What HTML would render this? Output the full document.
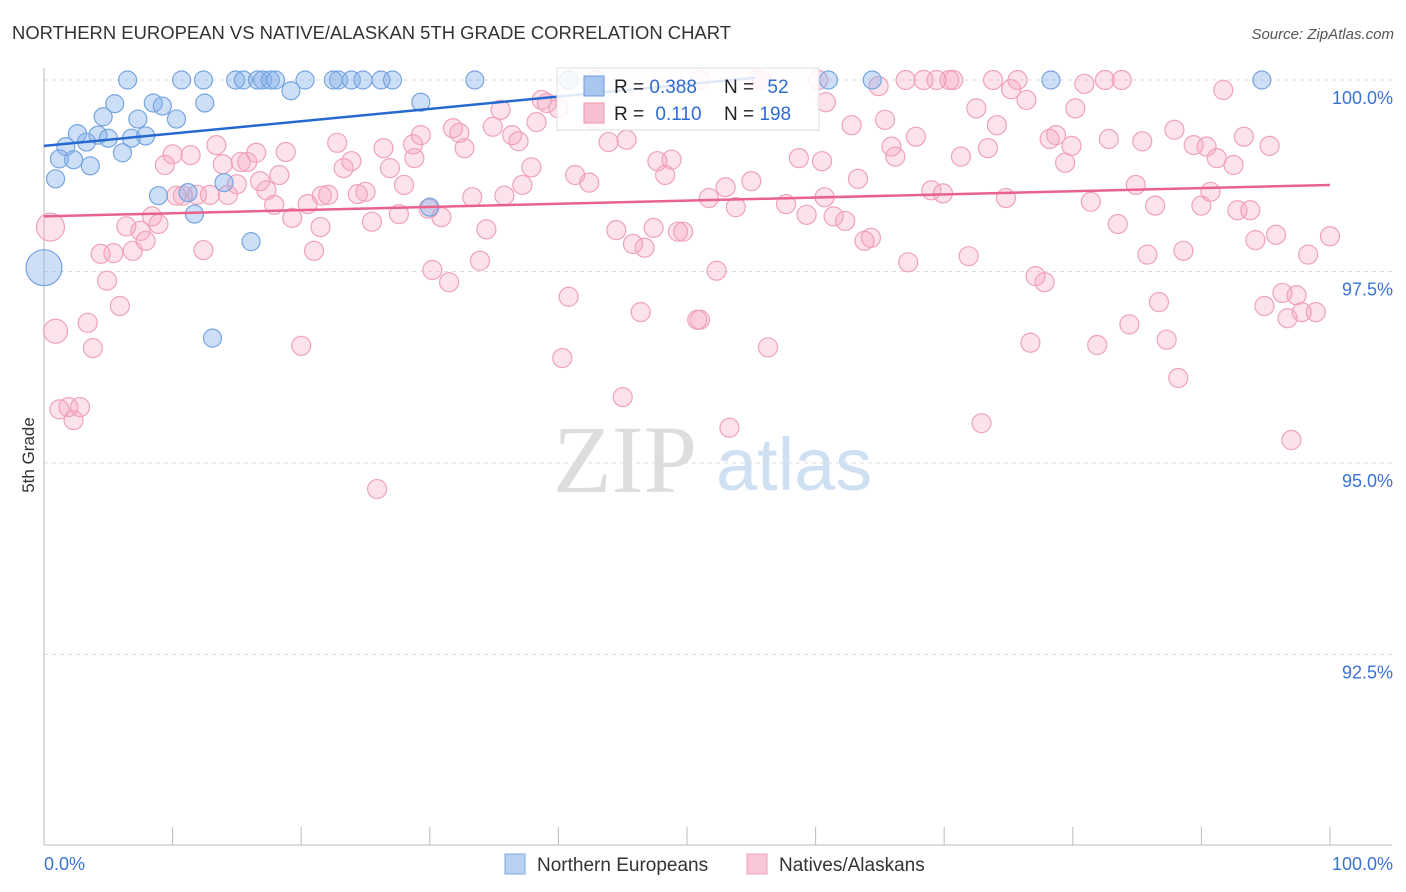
<!DOCTYPE html>
<html><head><meta charset="utf-8"><style>
body{margin:0;background:#fff;width:1406px;height:892px;overflow:hidden;font-family:"Liberation Sans",sans-serif}
svg{position:absolute;left:0;top:0}
</style></head><body>
<svg id="chart" width="1406" height="892">
<text x="12" y="39" font-size="18" fill="#333" textLength="719" lengthAdjust="spacingAndGlyphs">NORTHERN EUROPEAN VS NATIVE/ALASKAN 5TH GRADE CORRELATION CHART</text>
<text x="1394" y="39" font-size="15" fill="#555" font-style="italic" text-anchor="end">Source: ZipAtlas.com</text>
<text x="34" y="455" font-size="17" fill="#333" transform="rotate(-90 34 455)" text-anchor="middle">5th Grade</text>
<g><text x="553" y="492" font-size="96" fill="#ddd" font-family="Liberation Serif,serif">ZIP</text><text x="716" y="490" font-size="74" fill="#cfe0f3">atlas</text></g>
<g id="grid"></g><g id="axes"></g><g id="pts"></g><g id="lines"></g>
<g>
<rect x="557" y="68" width="262" height="62" fill="#fff" fill-opacity="0.85" stroke="#ddd"/>
<rect x="584" y="76" width="20" height="20" fill="#a9c6ef" stroke="#6d9fe0"/>
<rect x="584" y="103" width="20" height="20" fill="#f8bfd0" stroke="#ee93b0"/>
<text x="614" y="93" font-size="19" fill="#222">R = <tspan fill="#2f6bd1">0.388</tspan></text>
<text x="724" y="93" font-size="19" fill="#222">N = <tspan fill="#2f6bd1" dx="8">52</tspan></text>
<text x="614" y="120" font-size="19" fill="#222">R = <tspan fill="#2f6bd1" dx="6">0.110</tspan></text>
<text x="724" y="120" font-size="19" fill="#222">N = <tspan fill="#2f6bd1">198</tspan></text>
</g>
<g>
<rect x="505" y="854" width="20" height="20" fill="#b8d0f2" stroke="#7aaae0"/>
<text x="537" y="871" font-size="19" fill="#333">Northern Europeans</text>
<rect x="747" y="854" width="20" height="20" fill="#f9c6d5" stroke="#f0a0b8"/>
<text x="779" y="871" font-size="19" fill="#333">Natives/Alaskans</text>
</g>
</svg>
<script>
const yTicks=[92.5,95.0,97.5,100.0];
const xTickVals=[0,10,20,30,40,50,60,70,80,90,100];
const blueX=[6.5,10.7,12.4,14.9,15.5,16.6,17.0,17.6,18.0,20.3,22.5,22.9,23.9,24.8,26.2,27.1,33.5,40.8,61.0,64.4,78.3,94.7,19.2,5.5,8.5,9.2,12.5,29.3,4.6,7.3,10.3,2.6,4.2,3.3,5.0,6.8,7.9,6.1,1.7,1.2,2.3,3.6,0.9,8.9,11.2,14.0,11.7,30.0,16.1,13.1,0];
const blueY=[100,100,100,100,100,100,100,100,100,100,100,100,100,100,100,100,100,100,100,100,100,100,99.86,99.69,99.70,99.66,99.70,99.71,99.52,99.49,99.49,99.30,99.28,99.19,99.24,99.24,99.27,99.05,99.13,98.97,98.96,98.88,98.71,98.49,98.53,98.66,98.25,98.34,97.89,96.63,97.55];
const blueR=[9,9,9,9,9,9,9,9,9,9,9,9,9,9,9,9,9,9,9,9,9,9,9,9,9,9,9,9,9,9,9,9,9,9,9,9,9,9,9,9,9,9,9,9,9,9,9,9,9,9,18];
const pinkX=[40.8,42.9,51.0,55.4,55.8,60.2,67.0,68.4,69.4,70.4,70.7,73.8,75.7,82.5,83.8,64.9,80.9,75.2,76.4,72.5,80.2,91.7,74.1,62.8,65.4,67.8,78.2,78.7,79.9,82.8,85.4,87.9,89.4,90.4,91.2,92.5,93.3,95.3,65.9,66.2,71.3,73.4,58.7,60.5,79.4,63.3,53.0,55.0,51.7,53.8,57.7,60.7,69.0,69.9,74.8,84.9,90.7,59.3,61.4,62.3,81.4,86.4,90.0,92.8,93.8,83.5,94.2,95.8,100,98.3,63.8,64.3,67.2,71.9,85.8,88.6,52.3,77.1,77.8,86.7,94.9,96.3,97.4,96.7,97.8,98.9,84.4,51.0,56.3,76.7,81.9,87.3,88.2,72.9,53.3,97.0,
38.7,39.1,40.0,35.5,34.9,36.4,36.9,38.3,29.3,28.7,28.8,31.8,32.3,32.7,43.9,45.3,13.4,11.4,10.0,9.4,13.9,15.3,15.8,16.5,18.8,22.8,23.9,23.3,26.4,26.9,28.0,37.9,37.2,41.3,42.4,47.7,48.8,48.3,18.3,16.8,17.3,15.0,10.3,10.8,11.9,12.9,33.3,35.8,22.1,24.4,25.0,21.6,17.9,20.5,14.3,19.3,21.5,25.5,27.6,29.9,30.9,34.4,44.5,45.8,46.7,47.4,49.3,49.7,8.4,8.9,6.4,7.5,7.9,6.9,4.4,5.4,12.4,21.0,33.9,30.2,31.5,40.8,46.4,50.8,4.9,5.9,3.4,3.8,20.0,40.3,1.2,1.9,2.8,2.3,25.9,45.0,42.8,60.8,0.5,0.9];
const pinkY=[100,100,100,100,100,100,100,100,100,100,100,100,100,100,100,99.92,99.95,99.88,99.74,99.63,99.63,99.87,99.41,99.41,99.48,99.26,99.23,99.28,99.14,99.23,99.20,99.35,99.15,99.13,98.98,98.89,99.26,99.14,99.13,99.0,99.0,99.11,98.98,98.94,98.92,98.71,98.60,98.68,98.46,98.34,98.38,98.47,98.56,98.52,98.46,98.63,98.54,98.24,98.22,98.16,98.41,98.36,98.36,98.30,98.30,98.12,97.91,97.98,97.96,97.72,97.90,97.94,97.62,97.70,97.72,97.77,97.51,97.44,97.36,97.10,97.05,97.22,97.19,96.89,96.97,96.97,96.81,96.87,96.51,96.57,96.54,96.61,96.11,95.52,95.46,95.30,
99.74,99.70,99.63,99.61,99.39,99.28,99.20,99.45,99.28,99.16,98.98,99.37,99.31,99.11,99.19,99.22,99.15,99.02,99.03,98.89,98.90,98.93,98.93,99.05,99.06,99.18,98.94,98.85,99.11,98.85,98.63,98.86,98.63,98.76,98.66,98.94,98.96,98.76,98.76,98.68,98.56,98.64,98.49,98.49,98.50,98.50,98.47,98.49,98.50,98.51,98.54,98.49,98.37,98.38,98.50,98.20,98.08,98.15,98.25,98.32,98.21,98.05,98.04,97.86,97.81,98.07,98.02,98.02,98.22,98.12,98.09,98.03,97.90,97.77,97.73,97.74,97.78,97.77,97.64,97.52,97.36,97.17,96.97,96.87,97.38,97.05,96.83,96.50,96.53,96.37,95.70,95.73,95.73,95.56,94.66,95.86,99.48,99.71,98.08,96.72];
const blueTrend=[[0,99.14],[55.3,100.03]];
const pinkTrend=[[0,98.22],[100,98.63]];
const X=v=>44+v*12.86;
const Y=v=>80+(100-v)*76.6;
const NS='http://www.w3.org/2000/svg';
function mk(tag,attrs,parent){const e=document.createElementNS(NS,tag);for(const k in attrs)e.setAttribute(k,attrs[k]);parent.appendChild(e);return e;}
const grid=document.getElementById('grid'),axes=document.getElementById('axes'),pts=document.getElementById('pts'),lines=document.getElementById('lines');
yTicks.forEach(t=>{
  const l=mk('line',{x1:44,x2:1392,y1:Y(t),y2:Y(t),stroke:'#ddd','stroke-dasharray':'4,4'},grid);
  
  
  const tx=mk('text',{x:1393,y:Y(t)+24,'font-size':18,fill:'#3b72d6','text-anchor':'end'},axes);
  tx.textContent=t.toFixed(1)+'%';
  
  
});
const ya=mk('line',{x1:44,x2:44,y1:68,y2:845,stroke:'#bbb'},axes);


const xa=mk('line',{x1:44,x2:1392,y1:845,y2:845,stroke:'#bbb'},axes);


xTickVals.forEach(t=>{
  const l=mk('line',{x1:X(t),x2:X(t),y1:827,y2:845,stroke:'#bbb'},axes);
  
  
});
[[0,'start'],[100,'end']].forEach(([v,a])=>{
  const tx=mk('text',{x:v===0?44:1393,y:870,'font-size':18,fill:'#3b72d6','text-anchor':a},axes);
  tx.textContent=v.toFixed(1)+'%';
  
  
});
pinkX.forEach((v,i)=>{
  const r=(i>=pinkX.length-2)?(i===pinkX.length-2?14:12):9.5;
  const c=mk('circle',{cx:X(v),cy:Y(pinkY[i]),r:r,fill:'rgba(244,160,188,0.3)',stroke:'#efa2ba','stroke-width':1.2},pts);
  
  
});
blueX.forEach((v,i)=>{
  const c=mk('circle',{cx:X(v),cy:Y(blueY[i]),r:blueR[i],fill:'rgba(130,175,232,0.4)',stroke:'#76a4e0','stroke-width':1.2},pts);
  
  
});
const bl=mk('line',{x1:X(blueTrend[0][0]),y1:Y(blueTrend[0][1]),x2:X(blueTrend[1][0]),y2:Y(blueTrend[1][1]),stroke:'#2568d0','stroke-width':2.5},lines);


const pl=mk('line',{x1:X(pinkTrend[0][0]),y1:Y(pinkTrend[0][1]),x2:X(pinkTrend[1][0]),y2:Y(pinkTrend[1][1]),stroke:'#e8628c','stroke-width':2.5},lines);


</script>
</body></html>
